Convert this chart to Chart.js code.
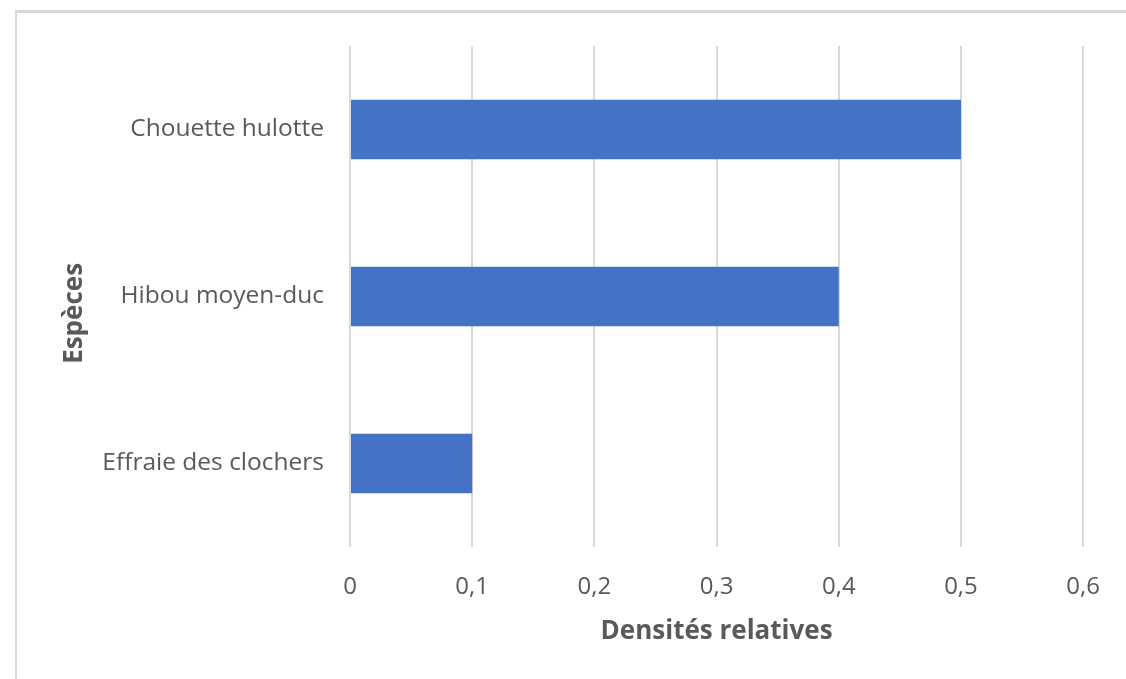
<!DOCTYPE html>
<html>
<head>
<meta charset="utf-8">
<script src="https://cdn.jsdelivr.net/npm/chart.js@4.4.1/dist/chart.umd.min.js"></script>
<style>
  html, body { margin: 0; padding: 0; background: #fff; overflow: hidden; }
  #frame {
    position: absolute; left: 15px; top: 10px; width: 1200px; height: 800px;
    border-left: 2px solid #d9d9d9; border-top: 3px solid #d9d9d9;
  }
  #wrap { position: absolute; left: 0; top: 0; width: 1126px; height: 679px; }
</style>
</head>
<body>
<div id="frame"></div>
<div id="wrap"><canvas id="myChart" width="1126" height="679"></canvas></div>
<script>
const species = ['Chouette hulotte', 'Hibou moyen-duc', 'Effraie des clochers'];
const densities = [0.5, 0.4, 0.1];
const xTicks = ['0', '0,1', '0,2', '0,3', '0,4', '0,5', '0,6'];

const textColor = '#595959';
const gridColor = '#d9d9d9';

const ctx = document.getElementById('myChart').getContext('2d');
const chart = new Chart(ctx, {
    type: 'bar',
    data: {
        labels: species,
        datasets: [{
            label: 'Densités relatives',
            data: densities,
            backgroundColor: '#4472c4',
            borderWidth: 0,
            categoryPercentage: 1,
            barPercentage: 0.355
        }]
    },
    options: {
        indexAxis: 'y',
        responsive: false,
        animation: false,
        layout: { padding: { left: 0, right: 40, top: 46, bottom: 32 } },
        plugins: {
            legend: { display: false },
            tooltip: { enabled: false }
        },
        scales: {
            x: {
                min: 0,
                max: 0.6,
                grid: { color: gridColor, lineWidth: 2, drawTicks: false },
                border: { display: false },
                ticks: {
                    stepSize: 0.1,
                    padding: 26,
                    color: textColor,
                    font: { family: 'Open Sans', size: 24 },
                    callback: (v, i) => xTicks[i]
                },
                title: {
                    display: true,
                    text: 'Densités relatives',
                    color: textColor,
                    font: { family: 'Open Sans', size: 26, weight: 'bold' },
                    padding: 0
                },
                afterFit: s => { s.height = 100; }
            },
            y: {
                grid: { display: false, drawTicks: false },
                border: { display: false },
                ticks: {
                    padding: 26,
                    color: textColor,
                    font: { family: 'Open Sans', size: 24.5 }
                },
                title: {
                    display: true,
                    // trailing spaces nudge the rotated title a bit lower
                    text: 'Espèces     ',
                    color: textColor,
                    font: { family: 'Open Sans', size: 26, weight: 'bold' },
                    padding: { top: 59, bottom: 0 }
                },
                afterFit: s => { s.width = 350; }
            }
        }
    }
});
</script>
</body>
</html>
